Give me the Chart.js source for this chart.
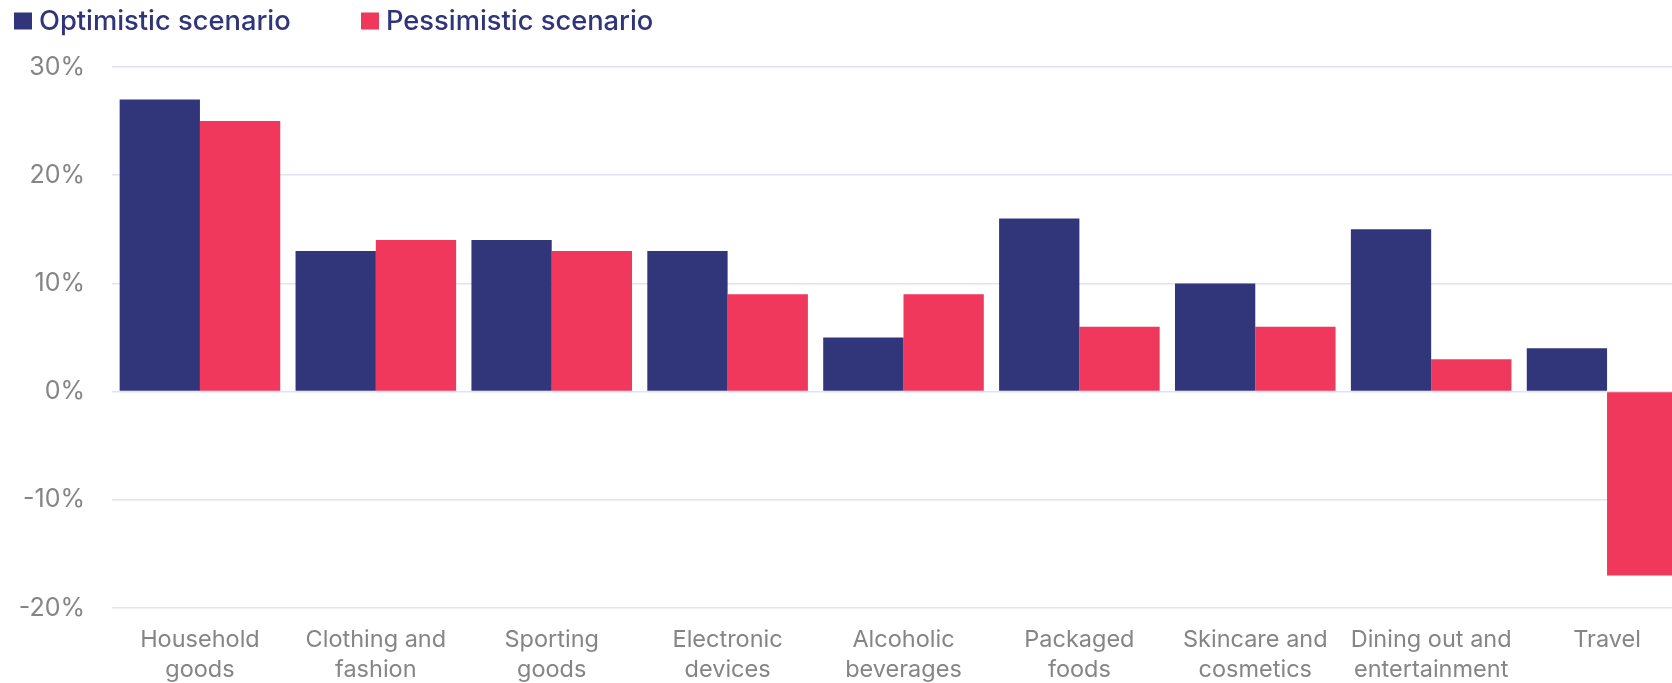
<!DOCTYPE html>
<html>
<head>
<meta charset="utf-8">
<script src="https://cdn.jsdelivr.net/npm/chart.js@4/dist/chart.umd.min.js"></script>
<style>
  html, body { margin: 0; padding: 0; background: #fff; overflow: hidden; }
  #wrap { position: relative; width: 1700px; height: 683px; }
</style>
</head>
<body>
<div id="wrap"><canvas id="c"></canvas></div>
<script>
const categories = [
  ["Household", "goods"],
  ["Clothing and", "fashion"],
  ["Sporting", "goods"],
  ["Electronic", "devices"],
  ["Alcoholic", "beverages"],
  ["Packaged", "foods"],
  ["Skincare and", "cosmetics"],
  ["Dining out and", "entertainment"],
  ["Travel"]
];
const seriesNames = ["Optimistic scenario", "Pessimistic scenario"];
const optimistic = [27, 13, 14, 13, 5, 16, 10, 15, 4];
const pessimistic = [25, 14, 13, 9, 9, 6, 6, 3, -17];
const yTicks = [-20, -10, 0, 10, 20, 30];

const NAVY = '#31367a';
const RED = '#f0375c';

const legendPlugin = {
  id: 'customLegend',
  afterDraw(chart) {
    const ctx = chart.ctx;
    const boxX = [14, 361];
    const textX = [39, 386];
    ctx.save();
    ctx.font = '500 27.3px Inter, "Liberation Sans", sans-serif';
    ctx.textBaseline = 'alphabetic';
    ctx.textAlign = 'left';
    chart.data.datasets.forEach((ds, i) => {
      ctx.fillStyle = ds.backgroundColor;
      ctx.fillRect(boxX[i], 12.5, 18, 17);
      ctx.fillStyle = '#30357a';
      ctx.fillText(ds.label, textX[i], 29.5);
    });
    ctx.restore();
  }
};

new Chart(document.getElementById('c'), {
  type: 'bar',
  data: {
    labels: categories,
    datasets: [
      { label: seriesNames[0], data: optimistic, backgroundColor: NAVY },
      { label: seriesNames[1], data: pessimistic, backgroundColor: RED }
    ]
  },
  options: {
    responsive: true,
    maintainAspectRatio: false,
    animation: false,
    layout: { padding: { top: 67, right: 5, bottom: 0, left: 0 } },
    datasets: { bar: { categoryPercentage: 0.913, barPercentage: 1.0, borderWidth: 0 } },
    plugins: {
      legend: { display: false },
      tooltip: { enabled: false }
    },
    scales: {
      x: {
        grid: { display: false, drawTicks: false },
        border: { display: false },
        ticks: {
          color: '#858585',
          font: { family: 'Inter, "Liberation Sans", sans-serif', size: 23.5, lineHeight: 1.28 },
          padding: 17,
          maxRotation: 0,
          autoSkip: false
        },
        afterFit(scale) { scale.height = 75; }
      },
      y: {
        min: -20,
        max: 30,
        afterBuildTicks(scale) { scale.ticks = yTicks.map(v => ({ value: v })); },
        grid: { color: '#e2e2f4', lineWidth: 1.5, drawTicks: false },
        border: { display: false },
        ticks: {
          color: '#858585',
          font: { family: 'Inter, "Liberation Sans", sans-serif', size: 25 },
          padding: 27,
          callback: v => v + '%'
        },
        afterFit(scale) { scale.width = 112; }
      }
    }
  },
  plugins: [legendPlugin]
});
</script>
</body>
</html>
